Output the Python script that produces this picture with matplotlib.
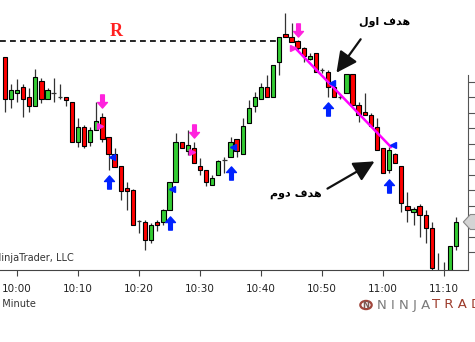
import matplotlib
matplotlib.use("Agg")
import matplotlib.pyplot as plt
import numpy as np
from matplotlib.path import Path
from matplotlib.patches import Polygon, Circle
import matplotlib.transforms as mtransforms

# --- 1 minute bars, minutes counted from 10:00
minutes = list(range(-2, 73))
opens = [243, 201, 207, 213, 203, 194, 219, 201, 207, 203, 203, 198, 158, 173, 158, 170, 183,
         163, 146, 134, 112, 110, 79, 78, 60, 78, 78, 90, 118, 158, 149, 152, 134, 130, 115,
         125, 140, 143, 161, 146, 177, 194, 201, 213, 203, 238, 266, 263, 259, 252, 241, 247,
         230, 228, 213, 203, 207, 226, 195, 188, 185, 173, 152, 130, 146, 134, 94, 88, 94, 85,
         72, 25, 25, 20, 54]
highs = [243, 216, 221, 216, 212, 231, 222, 212, 222, 216, 203, 198, 182, 175, 173, 198, 187,
         163, 152, 134, 118, 111, 80, 80, 77, 80, 91, 118, 167, 158, 170, 158, 142, 130, 125,
         140, 143, 163, 161, 182, 200, 208, 217, 225, 235, 263, 287, 277, 260, 253, 247, 247,
         232, 230, 215, 206, 226, 226, 198, 207, 187, 182, 152, 153, 147, 134, 108, 93, 96, 90,
         78, 47, 38, 54, 83]
lows = [188, 192, 198, 183, 188, 194, 197, 201, 198, 201, 194, 158, 153, 152, 154, 170, 158,
        130, 133, 100, 90, 75, 67, 50, 57, 69, 75, 90, 118, 152, 145, 137, 125, 114, 115, 125,
        127, 143, 143, 146, 177, 188, 201, 203, 203, 225, 263, 258, 250, 238, 240, 228, 227,
        203, 203, 201, 207, 195, 178, 185.5, 174, 150, 127, 127, 137, 88, 78, 75, 63, 57, 15,
        15, 15, 15, 50]
closes = [201, 210, 210, 201, 194, 223, 201, 210, 207, 203, 200, 158, 173, 154, 170, 179, 161,
          146, 133, 109, 109, 75, 79, 60, 75, 75, 90, 118, 158, 152, 155, 137, 130, 118, 122,
          139, 140, 158, 149, 174, 192, 203, 213, 203, 235, 263, 263, 258, 252, 244, 244, 228,
          230, 213, 203, 203, 226, 195, 185, 185.5, 174, 150, 127, 150, 137, 97, 90, 91, 85, 72,
          32, 25, 25, 54, 78]

# signals
sell_min = [14, 29, 46]
sell_px = [199.5, 169.5, 270.5]
buy_min = [15, 25, 35, 51, 61]
buy_px = [118.5, 77.5, 127, 191.5, 114]
short_tri_min = [13.6, 28.7, 45.2]
short_tri_px = [174, 148, 252]
long_tri_min = [15.6, 25.4, 35.4, 51.6, 61.6]
long_tri_px = [143, 111, 153, 217, 155]

resist_level = 259
trend_min = [45.6, 61.3]
trend_px = [252, 153]

tick_min = list(range(0, 71, 10))
tick_lbl = ["10:00", "10:10", "10:20", "10:30", "10:40", "10:50", "11:00", "11:10"]
price_ticks = list(np.arange(48, 220, 15.5))

# arrow glyph used for the signal markers
up_arrow = Path([(-0.28, -1), (0.28, -1), (0.28, 0.15), (0.75, 0.15), (0, 1),
                 (-0.75, 0.15), (-0.28, 0.15), (-0.28, -1)], closed=True)
down_arrow = Path(up_arrow.vertices * [1, -1], closed=True)

fig = plt.figure(figsize=(4.75, 3.42), dpi=100)
ax = fig.add_axes([0, 72 / 342, 468 / 475, 270 / 342])
ax.set_xlim(-2.787, 73.93)
ax.set_ylim(30, 300)

o = np.array(opens, float)
c = np.array(closes, float)
m = np.array(minutes, float)
up = c > o
dn = c < o
doji = c == o

ax.vlines(m, lows, highs, color="#333333", lw=0.9, zorder=2)
ax.bar(m[up], (c - o)[up], bottom=o[up], width=0.7, color="#33cc33",
       edgecolor="black", lw=0.8, zorder=3)
ax.bar(m[dn], (o - c)[dn], bottom=c[dn], width=0.7, color="#ff0000",
       edgecolor="black", lw=0.8, zorder=3)
ax.hlines(o[doji], m[doji] - 0.35, m[doji] + 0.35, color="#333333", lw=0.9, zorder=3)

# resistance
ax.plot([-2.8, 42.8], [resist_level, resist_level], ls=(0, (3.5, 2.5)), color="black", lw=1.2)
ax.text(16.2, 269, "R", color="#ff2020", fontsize=13, fontweight="bold",
        family="Liberation Serif", ha="center", va="center")

# trend line
ax.plot(trend_min, trend_px, color="#ff00ff", lw=1.8, zorder=4)

ax.plot(sell_min, sell_px, ls="none", marker=down_arrow, ms=9.5, color="#ff22dd", zorder=5)
ax.plot(buy_min, buy_px, ls="none", marker=up_arrow, ms=9.5, color="#0022ff", zorder=5)
ax.plot(short_tri_min, short_tri_px, ls="none", marker=">", ms=4.5, color="#ff22dd", zorder=5)
ax.plot(long_tri_min, long_tri_px, ls="none", marker="<", ms=4.5, color="#0022ff", zorder=5)

# targets (shaped Arabic, visual order)
ax.text(60.3, 278, "\ufedd\ufeed\ufe8d \ufed1\ufeaa\ufeeb", fontsize=8, fontweight="bold",
        ha="center", va="center", family="DejaVu Sans")
ax.text(45.7, 105, "\ufee1\ufeed\ufea9 \ufed1\ufeaa\ufeeb", fontsize=8, fontweight="bold",
        ha="center", va="center", family="DejaVu Sans")
ax.annotate("", xy=(52.1, 225), xytext=(56.6, 263),
            arrowprops=dict(arrowstyle="-|>,head_width=0.45,head_length=0.9",
                            color="#111111", lw=1.6, mutation_scale=14))
ax.annotate("", xy=(59.0, 140), xytext=(50.5, 110),
            arrowprops=dict(arrowstyle="-|>,head_width=0.45,head_length=0.9",
                            color="#111111", lw=1.6, mutation_scale=14))

# axes styling
for s in ["top", "left"]:
    ax.spines[s].set_visible(False)
ax.spines["bottom"].set_color("#444444")
ax.spines["right"].set_color("#555555")
ax.spines["right"].set_bounds(30, 225)
ax.set_xticks(tick_min)
ax.set_xticklabels(tick_lbl)
ax.tick_params(axis="x", direction="out", length=4, color="#444444", labelsize=7.5,
               labelcolor="#222222", pad=6)
ax.yaxis.tick_right()
ax.set_yticks(price_ticks)
ax.set_yticklabels([])
ax.tick_params(axis="y", direction="out", length=5, color="#555555")

# last price marker on the price axis
trans = mtransforms.blended_transform_factory(ax.transAxes, ax.transData)
last = closes[-1]
ax.add_patch(Polygon([(0.99, last), (1.005, last + 7.5), (1.03, last + 7.5),
                      (1.03, last - 7.5), (1.005, last - 7.5)], closed=True,
                     transform=trans, clip_on=False, facecolor="#d4d4d4",
                     edgecolor="#888888", lw=0.8, zorder=6))

fig.text(-6 / 475, 1 - 258 / 342, "NinjaTrader, LLC", fontsize=7, color="#333333",
         va="center")
fig.text(-7 / 475, 1 - 304 / 342, "1 Minute", fontsize=7, color="#333333", va="center")

# logo
fig.patches.append(Circle((366 / 475, 1 - 305 / 342), 0.012, transform=fig.transFigure,
                          facecolor="none", edgecolor="#a0463c", lw=1.6))
fig.text(366 / 475, 1 - 305 / 342, "N", fontsize=6, fontweight="bold", color="#7a5a55",
         ha="center", va="center")
fig.text(377 / 475, 1 - 305 / 342, "N I N J A", fontsize=9.5, color="#7a7a7a", va="center")
fig.text(432 / 475, 1 - 305 / 342, "T R A D E R", fontsize=9.5, color="#9c3a2a", va="center")

fig.savefig("out.png", dpi=100)
